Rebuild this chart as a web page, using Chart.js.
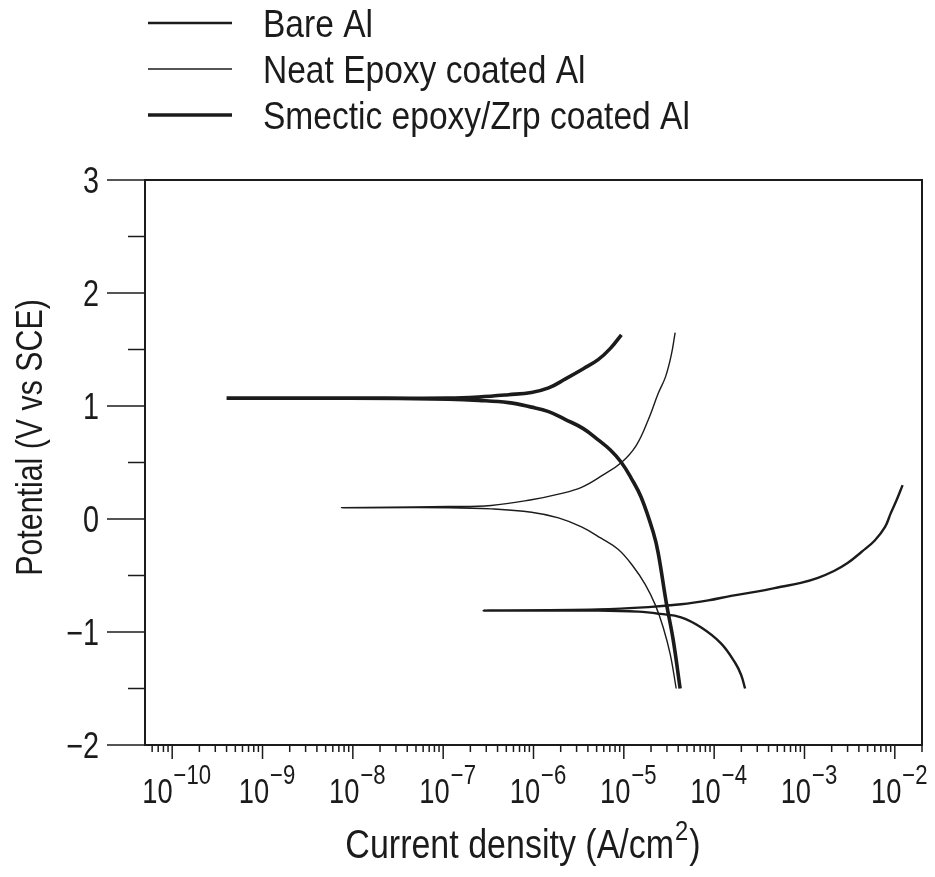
<!DOCTYPE html>
<html>
<head>
<meta charset="utf-8">
<script src="https://cdn.jsdelivr.net/npm/chart.js@4.4.1/dist/chart.umd.min.js"></script>
<style>
  html, body { margin: 0; padding: 0; background: #fff; }
  #wrap { width: 935px; height: 877px; }
</style>
</head>
<body>
<div id="wrap"><canvas id="tafel" width="935" height="877"></canvas></div>
<script>
// Tafel curves (current density A/cm2, potential V vs SCE)
// each curve runs from its cathodic end, left to Ecorr, then out along the anodic branch
const bareI = [2.2e-4, 1.99e-4, 1.7e-4, 1.19e-4, 7.2e-5, 4.3e-5, 2.53e-5, 1.45e-5, 5.2e-6, 2.8e-7,
               5.2e-6, 1.87e-5, 4.3e-5, 8.6e-5, 1.54e-4, 3.06e-4, 5.5e-4, 9.1e-4, 1.41e-3, 2.12e-3,
               3.0e-3, 4.3e-3, 6.0e-3, 7.8e-3, 9.0e-3, 1.05e-2, 1.22e-2];
const bareV = [-1.50, -1.38, -1.27, -1.10, -0.96, -0.87, -0.84, -0.82, -0.81, -0.81,
               -0.80, -0.78, -0.755, -0.72, -0.68, -0.64, -0.60, -0.565, -0.52, -0.46,
               -0.39, -0.29, -0.19, -0.07, 0.05, 0.17, 0.30];

const epoxyI = [3.8e-5, 3.27e-5, 2.73e-5, 2.23e-5, 1.73e-5, 1.27e-5, 8.7e-6, 5.6e-6, 3.4e-6, 1.89e-6,
                9.5e-7, 3.4e-7, 1.15e-7, 7.5e-9, 1.15e-7, 3.4e-7, 9.5e-7, 1.89e-6, 3.4e-6, 5.9e-6,
                9.4e-6, 1.37e-5, 1.87e-5, 2.4e-5, 2.9e-5, 3.35e-5, 3.7e-5];
const epoxyV = [-1.50, -1.20, -0.96, -0.76, -0.58, -0.42, -0.27, -0.17, -0.07, 0.01,
                0.06, 0.09, 0.10, 0.10, 0.11, 0.12, 0.17, 0.22, 0.28, 0.39,
                0.50, 0.65, 0.88, 1.11, 1.26, 1.45, 1.65];

const smecticI = [4.2e-5, 3.52e-5, 2.95e-5, 2.4e-5, 2.12e-5, 1.56e-5, 1.21e-5, 9.4e-6, 7.1e-6, 5.2e-6,
                  3.56e-6, 2.26e-6, 1.47e-6, 9.5e-7, 5.3e-7, 2.47e-7, 1.15e-7, 9e-9, 4e-10, 9e-9,
                  1.15e-7, 2.47e-7, 5.3e-7, 9.5e-7, 1.47e-6, 2.26e-6, 3.56e-6, 5.2e-6, 7.1e-6, 9.4e-6];
const smecticV = [-1.50, -1.07, -0.74, -0.30, -0.12, 0.19, 0.36, 0.50, 0.61, 0.70,
                  0.80, 0.88, 0.95, 0.99, 1.03, 1.05, 1.06, 1.07, 1.07, 1.07,
                  1.07, 1.08, 1.10, 1.12, 1.16, 1.24, 1.33, 1.41, 1.51, 1.63];

const seriesNames = ["Bare Al", "Neat Epoxy coated Al", "Smectic epoxy/Zrp coated Al"];

// axis ticks
const xDecades = [-10, -9, -8, -7, -6, -5, -4, -3, -2];
const xTickExp = ["\u221210", "\u22129", "\u22128", "\u22127", "\u22126", "\u22125", "\u22124", "\u22123", "\u22122"];
const yMajor = [3, 2, 1, 0, -1, -2];
const yMajorLabels = ["3", "2", "1", "0", "\u22121", "\u22122"];
const yMinor = [2.5, 1.5, 0.5, -0.5, -1.5];

const ink = "#1b1b1b";
const FONT = '"Liberation Sans", Arial, sans-serif';

const toPoints = (xs, ys) => xs.map((v, i) => ({ x: v, y: ys[i] }));

// condensed text helper (the original lettering is tall and narrow)
function drawText(ctx, s, x, y, size, align, sx) {
    ctx.save();
    ctx.font = size + "px " + FONT;
    const w = ctx.measureText(s).width * sx;
    let x0 = x;
    if (align === "center") x0 = x - w / 2;
    if (align === "right") x0 = x - w;
    ctx.translate(x0, y);
    ctx.scale(sx, 1);
    ctx.textAlign = "left";
    ctx.textBaseline = "alphabetic";
    ctx.fillStyle = ink;
    ctx.fillText(s, 0, 0);
    ctx.restore();
    return w;
}
function textWidth(ctx, s, size, sx) {
    ctx.save();
    ctx.font = size + "px " + FONT;
    const w = ctx.measureText(s).width * sx;
    ctx.restore();
    return w;
}
function seg(ctx, x1, y1, x2, y2) {
    ctx.beginPath();
    ctx.moveTo(x1, y1);
    ctx.lineTo(x2, y2);
    ctx.stroke();
}

// frame, ticks, labels, titles and legend
const decorPlugin = {
    id: "decor",
    afterDraw(chart) {
        const { ctx, chartArea: a, scales: { x, y } } = chart;
        ctx.save();
        ctx.strokeStyle = ink;
        ctx.lineWidth = 2;
        ctx.strokeRect(a.left, a.top, a.right - a.left, a.bottom - a.top);

        // x ticks: decades long, 2..9 short
        ctx.lineWidth = 1.5;
        for (let e = -11; e <= -2; e++) {
            for (let m = 1; m <= 9; m++) {
                const v = m * Math.pow(10, e);
                if (v < x.min || v > x.max) continue;
                const px = x.getPixelForValue(v);
                seg(ctx, px, a.bottom, px, a.bottom + (m === 1 ? 14 : 7));
            }
        }
        // x labels 10^n
        xDecades.forEach((e, i) => {
            const px = x.getPixelForValue(Math.pow(10, e));
            const w1 = textWidth(ctx, "10", 35, 0.78);
            const w2 = textWidth(ctx, xTickExp[i], 27, 0.82);
            const x0 = px - (w1 + w2) / 2 + 4;
            drawText(ctx, "10", x0, 803, 35, "left", 0.78);
            drawText(ctx, xTickExp[i], x0 + w1 + 1, 784, 27, "left", 0.82);
        });

        // y ticks
        ctx.lineWidth = 1.5;
        yMajor.forEach((v, i) => {
            const py = y.getPixelForValue(v);
            seg(ctx, a.left - 38, py, a.left, py);
            drawText(ctx, yMajorLabels[i], 99, py + 13, 36, "right", 0.8);
        });
        yMinor.forEach(v => {
            const py = y.getPixelForValue(v);
            seg(ctx, a.left - 17, py, a.left, py);
        });

        // x title with superscript
        const tMain = "Current density (A/cm";
        const wm = textWidth(ctx, tMain, 40, 0.85);
        const ws = textWidth(ctx, "2", 28, 0.85);
        const wc = textWidth(ctx, ")", 40, 0.85);
        let tx = 522 - (wm + ws + wc) / 2;
        drawText(ctx, tMain, tx, 858, 40, "left", 0.85);
        drawText(ctx, "2", tx + wm + 1, 840, 28, "left", 0.85);
        drawText(ctx, ")", tx + wm + ws + 2, 858, 40, "left", 0.85);

        // y title
        ctx.save();
        ctx.translate(42, (a.top + a.bottom) / 2 - 25);
        ctx.rotate(-Math.PI / 2);
        drawText(ctx, "Potential (V vs SCE)", 0, 0, 37, "center", 0.82);
        ctx.restore();

        // legend
        const rowsY = [23, 69, 115];
        chart.data.datasets.forEach((ds, i) => {
            ctx.strokeStyle = ds.borderColor;
            ctx.lineWidth = ds.borderWidth;
            seg(ctx, 148, rowsY[i], 232, rowsY[i]);
            drawText(ctx, ds.label, 263, rowsY[i] + 14, 39, "left", 0.86);
        });
        ctx.restore();
    }
};

new Chart(document.getElementById("tafel"), {
    type: "scatter",
    data: {
        datasets: [
            { label: seriesNames[0], data: toPoints(bareI, bareV), borderColor: ink, borderWidth: 2.4 },
            { label: seriesNames[1], data: toPoints(epoxyI, epoxyV), borderColor: ink, borderWidth: 1.4 },
            { label: seriesNames[2], data: toPoints(smecticI, smecticV), borderColor: ink, borderWidth: 3.6 }
        ].map(d => Object.assign(d, { showLine: true, pointRadius: 0, tension: 0.4, fill: false }))
    },
    options: {
        responsive: false,
        animation: false,
        layout: { padding: { left: 145, top: 180, right: 13, bottom: 132 } },
        plugins: { legend: { display: false }, tooltip: { enabled: false } },
        scales: {
            x: { type: "logarithmic", min: 5e-11, max: 2e-2, display: false },
            y: { type: "linear", min: -2, max: 3, display: false }
        }
    },
    plugins: [decorPlugin]
});
</script>
</body>
</html>
